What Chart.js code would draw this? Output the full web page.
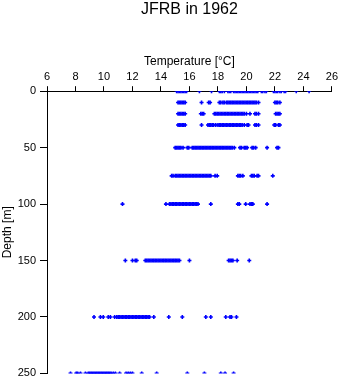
<!DOCTYPE html>
<html>
<head>
<meta charset="utf-8">
<script src="https://cdn.jsdelivr.net/npm/chart.js@4/dist/chart.umd.min.js"></script>
<style>
  html, body { margin: 0; padding: 0; background: #fff; }
  #wrap { width: 341px; height: 384px; }
</style>
</head>
<body>
<div id="wrap"><canvas id="chart" width="341" height="384"></canvas></div>
<script>
// ── Data: temperature readings per sampling depth ──────────
const depths = [0, 10, 20, 30, 50, 75, 100, 150, 200, 250];

const t0   = [15.1,15.2,15.3,15.4,15.5,15.6,15.7,15.8, 16.7, 17.55, 18.1,18.2,18.3,18.45, 18.7,18.8,18.9,
              19.1,19.2,19.3,19.4,19.5,19.6,19.7,19.8,19.9,20.0,20.1,20.2,20.3,20.4,20.5,20.6,20.7,20.8,
              21.05,21.15,21.3,21.4, 21.9,22.0,22.1,22.2,22.35,22.45, 22.65,22.75, 23.5, 24.4];
const t10  = [15.2,15.3,15.4,15.5,15.6,15.7, 16.85, 17.35,17.45, 18.1,18.2,18.35,18.45,
              18.6,18.7,18.8,18.9,19.0,19.1,19.2,19.3,19.4,19.5,19.6,19.7,19.8,19.9,20.0,20.1,20.2,
              20.3,20.4,20.5,20.6,20.7,20.85, 22.0,22.1,22.2,22.35];
const t20  = [15.2,15.3,15.4,15.5,15.6,15.7, 16.8,16.9,17.0, 17.75,17.85,17.95,18.05,18.15,18.25,
              18.35,18.45,18.55,18.65,18.75,18.85,18.95,19.05,19.15,19.25,19.35,19.45,19.55,19.65,
              19.75,19.85, 20.0, 20.25, 20.6,20.7,20.85, 22.05,22.15,22.25,22.35];
const t30  = [15.2,15.3,15.4,15.5,15.6,15.7, 16.85, 17.3,17.4,17.5,17.6,17.7,17.85, 18.0,18.1,18.2,
              18.3,18.4,18.5,18.6,18.7,18.8,18.9,19.0,19.1,19.2,19.3,19.4,19.5,19.6,19.7,19.85,
              20.05,20.15, 20.6,20.7,20.85, 21.95,22.05, 22.25,22.35];
const t50  = [15.0,15.1,15.2,15.3,15.4,15.55, 15.85,15.95, 16.2,16.3,16.4,16.5,16.6,16.7,16.8,16.9,
              17.0,17.1,17.2,17.3,17.4,17.5,17.6,17.7,17.8,17.9,18.0,18.1,18.2,18.3,18.4,18.5,18.6,
              18.7,18.8,18.9,19.0,19.15, 19.55,19.65, 19.85,19.95,20.05, 20.4,20.5,20.65, 21.45, 22.15,22.25];
const t75  = [14.75,14.85, 15.0,15.1,15.2,15.3,15.4,15.5,15.6,15.7,15.8,15.9,16.0,16.1,16.2,16.3,
              16.4,16.5,16.6,16.7,16.8,16.9,17.0,17.1,17.2,17.3,17.4,17.5, 17.8,17.95,
              19.4,19.5,19.6,19.75, 20.35,20.45,20.55, 20.75,20.85, 21.85];
const t100 = [11.3, 14.35, 14.6,14.7,14.8,14.9,15.0,15.1,15.2,15.3,15.4,15.5,15.6,15.7,15.8,15.9,
              16.0,16.1,16.2,16.3,16.4,16.5,16.6, 17.5, 19.4,19.5, 19.95, 20.25,20.35,20.45, 21.45];
const t150 = [11.5, 12.0, 12.2,12.3, 12.9,13.0,13.1,13.2,13.3,13.4,13.5,13.6,13.7,13.8,13.9,14.0,
              14.1,14.2,14.3,14.4,14.5,14.6,14.7,14.8,14.9,15.0,15.1,15.2,15.3, 16.0,
              18.75,18.85,18.95,19.05, 19.35, 20.2];
const t200 = [9.3, 9.75,9.95, 10.3,10.45, 10.75, 10.9,11.0,11.1,11.2,11.3,11.4,11.5,11.6,11.7,11.8,
              11.9,12.0,12.1,12.2,12.3,12.4,12.5,12.6,12.7,12.8,12.9,13.0,13.1,13.2, 13.5, 14.55,
              15.5, 17.15, 17.5, 18.55, 18.85,18.95, 19.3];
const t250 = [7.65, 8.05,8.15,8.35, 8.7, 8.9,9.0,9.1,9.2,9.3,9.4,9.5,9.6,9.7,9.8,9.9,10.0,10.1,
              10.2,10.3,10.4,10.5, 10.65,10.8, 11.1, 11.55,11.7, 11.85,12.0, 12.65, 13.7, 15.85,
              17.05, 18.2, 18.5, 19.1];

const rows = [t0, t10, t20, t30, t50, t75, t100, t150, t200, t250];

const xTicks = [6, 8, 10, 12, 14, 16, 18, 20, 22, 24, 26];
const yTicks = [0, 50, 100, 150, 200, 250];

// ── Build point list ───────────────────────────
const points = [];
rows.forEach((temps, i) => {
  temps.forEach(t => points.push({ x: t, y: depths[i] }));
});

const FONT = 'Liberation Sans, Arial, Helvetica, sans-serif';

new Chart(document.getElementById('chart'), {
  type: 'scatter',
  data: {
    datasets: [{
      data: points,
      pointStyle: 'cross',
      pointRadius: 2,
      borderWidth: 1.6,
      borderColor: '#0000ff',
      backgroundColor: '#0000ff',
    }]
  },
  options: {
    responsive: false,
    animation: false,
    layout: { padding: { left: 0, right: 9, top: 0, bottom: 9 } },
    plugins: {
      legend: { display: false },
      tooltip: { enabled: false },
      title: {
        display: true,
        fullSize: false,   // centre over the plot area, not the canvas
        text: 'JFRB in 1962',
        color: '#000',
        font: { family: FONT, size: 16, weight: 'normal' },
        padding: { top: 0, bottom: 35 }
      }
    },
    scales: {
      x: {
        type: 'linear',
        position: 'top',
        min: 6, max: 26,
        afterBuildTicks: s => { s.ticks = xTicks.map(v => ({ value: v })); },
        afterFit: s => { s.height = 37; },
        grid: { drawOnChartArea: false, drawTicks: true, tickLength: 5, color: '#000', lineWidth: 1 },
        border: { display: true, color: '#000', width: 1 },
        ticks: { color: '#000', font: { family: FONT, size: 11 }, padding: 3, maxRotation: 0 },
        title: {
          display: true, text: 'Temperature [°C]', color: '#000',
          font: { family: FONT, size: 12 }, padding: { top: 0, bottom: 2 }
        }
      },
      y: {
        type: 'linear',
        reverse: true,
        min: 0, max: 250,
        afterBuildTicks: s => { s.ticks = yTicks.map(v => ({ value: v })); },
        afterFit: s => { s.width = 47; },
        grid: { drawOnChartArea: false, drawTicks: true, tickLength: 7, color: '#000', lineWidth: 1 },
        border: { display: true, color: '#000', width: 1 },
        ticks: { color: '#000', font: { family: FONT, size: 11 }, padding: 4 },
        title: {
          display: true, text: 'Depth [m]', color: '#000',
          font: { family: FONT, size: 12 }, padding: 0
        }
      }
    }
  }
});
</script>
</body>
</html>
